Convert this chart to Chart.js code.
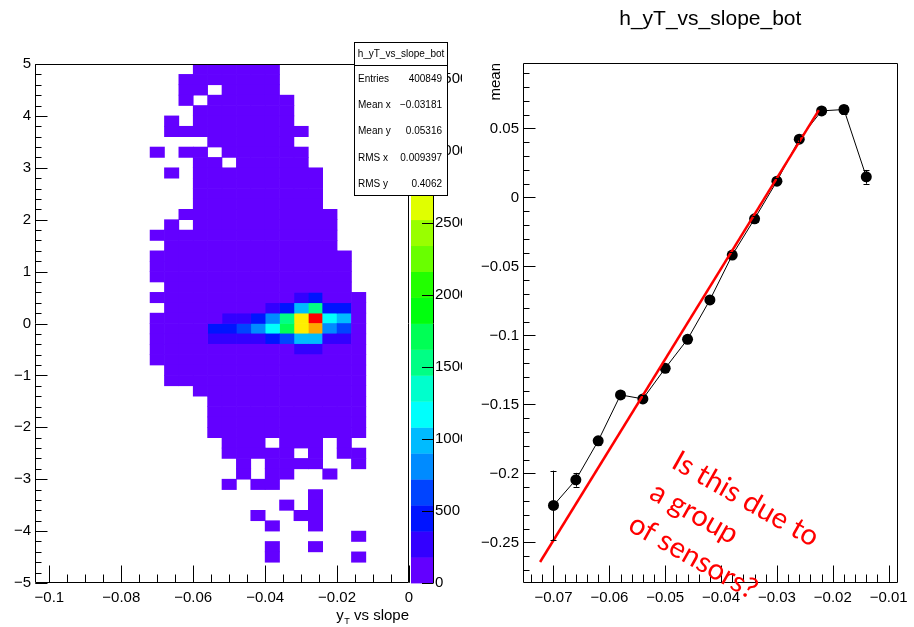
<!doctype html>
<html lang="en">
<head>
<meta charset="utf-8">
<title>h_yT_vs_slope_bot</title>
<script src="https://cdn.jsdelivr.net/npm/chart.js@4.4.0/dist/chart.umd.min.js"></script>
<style>
  html, body { margin: 0; padding: 0; background: #fff; }
  #wrap  { position: relative; width: 914px; height: 627px; overflow: hidden; }
  #hist2d  { position: absolute; left: 0; top: 0; }
  #profile { position: absolute; left: 462px; top: 0; }
</style>
</head>
<body>
<div id="wrap">
  <canvas id="hist2d" width="462" height="627"></canvas>
  <canvas id="profile" width="452" height="627"></canvas>
</div>
<script>
'use strict';

// ---- 2D histogram: y_T vs slope ----
// slope bin centres (same binning for the profile on the right)
const slopeBins = [-0.070, -0.066, -0.062, -0.058, -0.054, -0.050, -0.046, -0.042,
                   -0.038, -0.034, -0.030, -0.026, -0.022, -0.018, -0.014];
const slopeBinWidth = 0.004;
const yTTop = 5;
const yTBinHeight = 0.2;

// colour level of each cell, one string per y_T row from +5 down to -5.
// '.' = empty, 0-9 and a-j = palette level 0..19
const cellLevels = [
  '...000000......',
  '..0000000......',
  '..00.0000......',
  '..0.000000.....',
  '...0000000.....',
  '.0.0000000.....',
  '.0000000000....',
  '....000000.....',
  '0.00.000000....',
  '...00.00000....',
  '.0.000000000...',
  '...000000000...',
  '...000000000...',
  '...000000000...',
  '..00000000000..',
  '.0.0000000000..',
  '0000000000000..',
  '.000000000000..',
  '00000000000000.',
  '00000000000000.',
  '00000000000000.',
  '.0000000000000.',
  '000000000012000',
  '.00000001258220',
  '0000011248fj650',
  '0000223469fg430',
  '000011112355110',
  '000000000011000',
  '000000000000000',
  '.00000000000000',
  '.00000000000000',
  '...000000000000',
  '....00000000000',
  '....00000000000',
  '....00000000000',
  '....00000000000',
  '.....000.000.0.',
  '.....00000.0.00',
  '......0.0000..0',
  '......0.00..0..',
  '.....0.00......',
  '...........0...',
  '.........0.0...',
  '.......0..00...',
  '........0..0...',
  '..............0',
  '........0..0...',
  '........0.....0',
  '...............',
  '...............',
];

// ROOT "pretty" palette, 20 contour levels
const palette = ['#6300ff', '#3300ff', '#0014ff', '#0044ff', '#008bff',
                 '#00bbff', '#00fffc', '#00ffcc', '#00ff85', '#00ff55',
                 '#00ff0e', '#22ff00', '#69ff00', '#99ff00', '#e0ff00',
                 '#ffee00', '#ffa700', '#ff7700', '#ff3000', '#ff0000'];
const zMax = 3600;
const zTicks = [0, 500, 1000, 1500, 2000, 2500, 3000, 3500];

const statsTitle = 'h_yT_vs_slope_bot';
const statsLabels = ['Entries', 'Mean x', 'Mean y', 'RMS x', 'RMS y'];
const statsValues = ['400849', '\u22120.03181', '0.05316', '0.009397', '0.4062'];

const leftXTicks = [-0.1, -0.08, -0.06, -0.04, -0.02, 0];
const leftYTicks = [-5, -4, -3, -2, -1, 0, 1, 2, 3, 4, 5];

// ---- profile: mean y_T per slope bin ----
const profileMean = [-0.2232, -0.2046, -0.1764, -0.1431, -0.1460, -0.1238, -0.1028, -0.0743,
                     -0.0418, -0.0155, 0.0118, 0.0422, 0.0627, 0.0637, 0.0149];
const profileErr  = [0.0252, 0.0050, 0.0030, 0.0025, 0.0025, 0.0020, 0.0020, 0.0020,
                     0.0020, 0.0020, 0.0020, 0.0020, 0.0025, 0.0030, 0.0050];
const fitX = [-0.0724, -0.0225];
const fitY = [-0.2642, 0.0632];

const rightXTicks = [-0.07, -0.06, -0.05, -0.04, -0.03, -0.02, -0.01];
const rightYTicks = [-0.25, -0.2, -0.15, -0.1, -0.05, 0, 0.05];

const noteLines = ['Is this due to', 'a group', 'of sensors?'];

// -------------------------------------------------------------------------

Chart.defaults.font.family = '"Liberation Sans", Arial, Helvetica, sans-serif';
Chart.defaults.color = '#000';

const rootLabel = v => String(Number(Number(v).toFixed(4))).replace('-', '\u2212');

function minorValues(min, max, step) {
  const out = [];
  for (let k = Math.ceil(min / step - 1e-6); k * step <= max + 1e-9; k++) out.push(k * step);
  return out;
}

function linearAxis(min, max, tickValues, fitSize, labelPad, extra) {
  return Object.assign({
    type: 'linear', min, max, offset: false,
    grid: { display: false, drawTicks: false },
    border: { display: false },
    afterBuildTicks: s => { s.ticks = tickValues.map(v => ({ value: v })); },
    afterFit: s => { if (s.isHorizontal()) s.height = fitSize; else s.width = fitSize; },
    ticks: { callback: rootLabel, autoSkip: false, maxRotation: 0, padding: labelPad,
             color: '#000', font: { size: 15 } },
  }, extra || {});
}

// ROOT style frame with ticks drawn inside, on the left and bottom axes
function frameTicks(o) {
  return {
    id: 'frameTicks',
    afterDatasetsDraw(chart) {
      const { ctx, chartArea: a } = chart;
      const xs = chart.scales.x, ys = chart.scales.y;
      const L = Math.round(a.left) + 0.5, R = Math.round(a.right) - 0.5;
      const T = Math.round(a.top) + 0.5, B = Math.round(a.bottom) - 0.5;
      ctx.save();
      ctx.strokeStyle = '#000';
      ctx.lineWidth = 1;
      ctx.beginPath();
      ctx.rect(L, T, R - L, B - T);
      o.xMajor.forEach(v => {
        const p = Math.round(xs.getPixelForValue(v)) + 0.5;
        ctx.moveTo(p, B); ctx.lineTo(p, B - 17);
      });
      minorValues(xs.min, xs.max, o.xMinor).forEach(v => {
        const p = Math.round(xs.getPixelForValue(v)) + 0.5;
        ctx.moveTo(p, B); ctx.lineTo(p, B - 8);
      });
      o.yMajor.forEach(v => {
        const p = Math.round(ys.getPixelForValue(v)) + 0.5;
        ctx.moveTo(L, p); ctx.lineTo(L + 12, p);
      });
      minorValues(ys.min, ys.max, o.yMinor).forEach(v => {
        const p = Math.round(ys.getPixelForValue(v)) + 0.5;
        ctx.moveTo(L, p); ctx.lineTo(L + 6, p);
      });
      ctx.stroke();
      ctx.restore();
    }
  };
}

// ---- left: 2D histogram as floating bars, one dataset per colour level ----
const levelCells = palette.map(() => []);
cellLevels.forEach((row, r) => {
  const hi = yTTop - r * yTBinHeight;
  for (let c = 0; c < row.length; c++) {
    if (row[c] === '.') continue;
    levelCells[parseInt(row[c], 20)].push({ x: slopeBins[c], y: [hi - yTBinHeight, hi] });
  }
});

const colourBar = {
  id: 'colourBar',
  afterDatasetsDraw(chart) {
    const { ctx, chartArea: a } = chart;
    const zs = chart.scales.z;
    const x0 = a.right + 2, x1 = a.right + 24;
    const step = zMax / palette.length;
    ctx.save();
    palette.forEach((col, k) => {
      const yb = zs.getPixelForValue(k * step), yt = zs.getPixelForValue((k + 1) * step);
      ctx.fillStyle = col;
      ctx.fillRect(x0, yt, x1 - x0, yb - yt + 0.4);
    });
    ctx.strokeStyle = '#000';
    ctx.lineWidth = 1;
    ctx.beginPath();
    ctx.moveTo(x1 + 0.5, a.top); ctx.lineTo(x1 + 0.5, a.bottom);
    zTicks.forEach(v => {
      const p = Math.round(zs.getPixelForValue(v)) + 0.5;
      ctx.moveTo(x1 + 0.5, p); ctx.lineTo(x1 - 11, p);
    });
    ctx.stroke();
    ctx.restore();
  },
  afterDraw(chart) {
    const { ctx, chartArea: a } = chart;
    ctx.save();
    // x axis title: y_T vs slope
    ctx.fillStyle = '#000';
    ctx.textBaseline = 'alphabetic';
    ctx.textAlign = 'right';
    ctx.font = '15px "Liberation Sans", Arial, sans-serif';
    const tail = ' vs slope';
    ctx.fillText(tail, a.right, 620);
    let xr = a.right - ctx.measureText(tail).width;
    ctx.font = '9px "Liberation Sans", Arial, sans-serif';
    ctx.fillText('T', xr, 624);
    xr -= ctx.measureText('T').width + 0.5;
    ctx.font = '15px "Liberation Sans", Arial, sans-serif';
    ctx.fillText('y', xr, 620);

    // stats box
    const l = 354, t = 42, r = 448, b = 196, sep = 65;
    ctx.fillStyle = '#fff';
    ctx.fillRect(l, t, r - l, b - t);
    ctx.strokeStyle = '#000';
    ctx.lineWidth = 1;
    ctx.strokeRect(l + 0.5, t + 0.5, r - l - 1, b - t - 1);
    ctx.beginPath();
    ctx.moveTo(l, sep + 0.5); ctx.lineTo(r, sep + 0.5);
    ctx.stroke();
    ctx.fillStyle = '#000';
    ctx.font = '10px "Liberation Sans", Arial, sans-serif';
    ctx.textBaseline = 'middle';
    ctx.textAlign = 'center';
    ctx.fillText(statsTitle, (l + r) / 2, 54);
    statsLabels.forEach((lab, i) => {
      const y = 79 + i * 26.3;
      ctx.textAlign = 'left';
      ctx.fillText(lab, l + 4, y);
      ctx.textAlign = 'right';
      ctx.fillText(statsValues[i], r - 6, y);
    });
    ctx.restore();
  }
};

new Chart(document.getElementById('hist2d'), {
  type: 'bar',
  data: {
    datasets: levelCells.map((cells, k) => ({
      label: 'level ' + k,
      data: cells,
      backgroundColor: palette[k],
      borderWidth: 0,
      grouped: false,
      barPercentage: 1,
      categoryPercentage: 1,
      xAxisID: 'x',
      yAxisID: 'y',
    })),
  },
  options: {
    responsive: false,
    animation: false,
    events: [],
    layout: { padding: { top: 64, left: 0, right: 0, bottom: 0 } },
    plugins: { legend: { display: false }, tooltip: { enabled: false }, title: { display: false } },
    scales: {
      x: linearAxis(-0.104, 0, leftXTicks, 44, 6),
      y: linearAxis(-5, 5, leftYTicks, 35, 4),
      z: linearAxis(0, zMax, zTicks, 53, 26, { axis: 'y', position: 'right' }),
    },
  },
  plugins: [frameTicks({ xMajor: leftXTicks, xMinor: 0.005, yMajor: leftYTicks, yMinor: 0.2 }), colourBar],
});

// ---- right: profile with linear fit ----
const errorBars = {
  id: 'errorBars',
  afterDatasetsDraw(chart) {
    const { ctx } = chart;
    const xs = chart.scales.x, ys = chart.scales.y;
    ctx.save();
    ctx.strokeStyle = '#000';
    ctx.lineWidth = 1;
    ctx.beginPath();
    slopeBins.forEach((x, i) => {
      const px = Math.round(xs.getPixelForValue(x)) + 0.5;
      const yt = ys.getPixelForValue(profileMean[i] + profileErr[i]);
      const yb = ys.getPixelForValue(profileMean[i] - profileErr[i]);
      ctx.moveTo(px, yt); ctx.lineTo(px, yb);
      ctx.moveTo(px - 3, Math.round(yt) + 0.5); ctx.lineTo(px + 3, Math.round(yt) + 0.5);
      ctx.moveTo(px - 3, Math.round(yb) + 0.5); ctx.lineTo(px + 3, Math.round(yb) + 0.5);
    });
    ctx.stroke();
    ctx.restore();
  },
  afterDraw(chart) {
    const { ctx, chartArea: a } = chart;
    ctx.save();
    ctx.fillStyle = '#000';
    ctx.font = '21px "Liberation Sans", Arial, sans-serif';
    ctx.textAlign = 'center';
    ctx.textBaseline = 'alphabetic';
    ctx.fillText('h_yT_vs_slope_bot', (a.left + a.right) / 2, 25);

    ctx.translate(a.left - 27, a.top);
    ctx.rotate(-Math.PI / 2);
    ctx.font = '15px "Liberation Sans", Arial, sans-serif';
    ctx.textAlign = 'right';
    ctx.textBaseline = 'middle';
    ctx.fillText('mean', 0, 0);
    ctx.restore();

    // red note on the slide
    ctx.save();
    ctx.translate(208, 467);
    ctx.rotate(29.5 * Math.PI / 180);
    ctx.fillStyle = '#ff0000';
    ctx.font = '29px Lato, "Open Sans", sans-serif';
    ctx.textAlign = 'left';
    ctx.textBaseline = 'alphabetic';
    ctx.fillText(noteLines[0], 0, 0);
    ctx.fillText(noteLines[1], -4, 37.5);
    ctx.fillText(noteLines[2], -7, 76);
    ctx.restore();
  }
};

new Chart(document.getElementById('profile'), {
  type: 'scatter',
  data: {
    datasets: [
      {
        label: 'fit',
        data: fitX.map((x, i) => ({ x, y: fitY[i] })),
        showLine: true,
        borderColor: '#ff0000',
        borderWidth: 2.5,
        pointRadius: 0,
      },
      {
        label: 'mean',
        data: slopeBins.map((x, i) => ({ x, y: profileMean[i] })),
        showLine: true,
        borderColor: '#000',
        borderWidth: 1,
        pointRadius: 5.5,
        pointBackgroundColor: '#000',
        pointBorderWidth: 0,
      },
    ],
  },
  options: {
    responsive: false,
    animation: false,
    events: [],
    layout: { padding: { top: 63, left: 0, right: 16, bottom: 0 } },
    plugins: { legend: { display: false }, tooltip: { enabled: false }, title: { display: false } },
    scales: {
      x: linearAxis(-0.07546, -0.00839, rightXTicks, 44, 6),
      y: linearAxis(-0.2794, 0.0974, rightYTicks, 61, 4),
    },
  },
  plugins: [frameTicks({ xMajor: rightXTicks, xMinor: 0.002, yMajor: rightYTicks, yMinor: 0.01 }), errorBars],
});
</script>
</body>
</html>
